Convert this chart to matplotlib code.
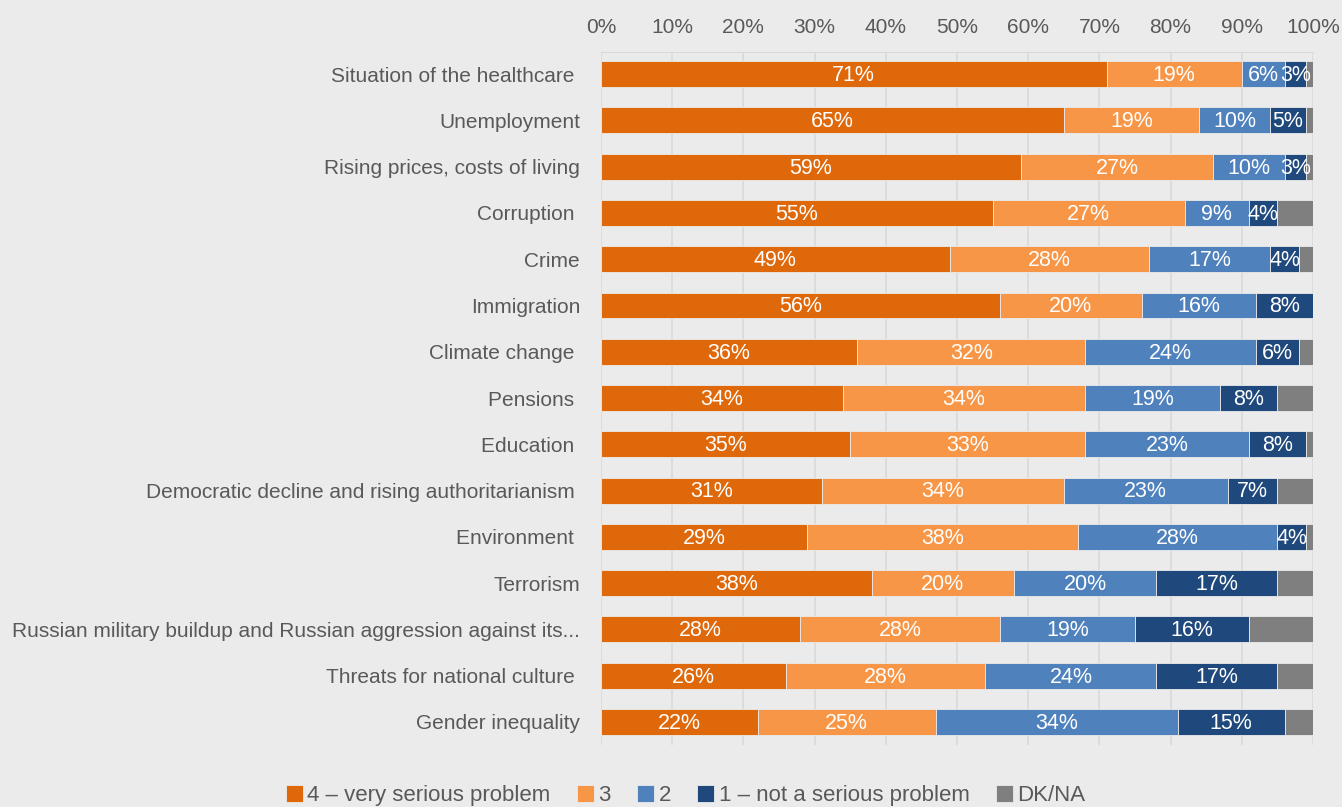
import matplotlib.pyplot as plt
import numpy as np

# survey: how serious is each problem (shares of respondents, %)
issues = [
    "Situation of the healthcare ",
    "Unemployment",
    "Rising prices, costs of living",
    "Corruption ",
    "Crime",
    "Immigration",
    "Climate change ",
    "Pensions ",
    "Education ",
    "Democratic decline and rising authoritarianism ",
    "Environment ",
    "Terrorism",
    "Russian military buildup and Russian aggression against its...",
    "Threats for national culture ",
    "Gender inequality",
]
very_serious = [71, 65, 59, 55, 49, 56, 36, 34, 35, 31, 29, 38, 28, 26, 22]
three = [19, 19, 27, 27, 28, 20, 32, 34, 33, 34, 38, 20, 28, 28, 25]
two = [6, 10, 10, 9, 17, 16, 24, 19, 23, 23, 28, 20, 19, 24, 34]
not_serious = [3, 5, 3, 4, 4, 8, 6, 8, 8, 7, 4, 17, 16, 17, 15]
dk_na = [1, 1, 1, 5, 2, 0.4, 2, 5, 1, 5, 1, 5, 9, 5, 4]

series = [
    ("4 \u2013 very serious problem", very_serious, "#DF690A"),
    ("3", three, "#F79646"),
    ("2", two, "#4F81BD"),
    ("1 \u2013 not a serious problem", not_serious, "#1F497D"),
    ("DK/NA", dk_na, "#7F7F7F"),
]

plt.rcParams["font.family"] = ["Liberation Sans", "DejaVu Sans"]
bg = "#EBEBEB"
txt = "#595959"

fig = plt.figure(figsize=(13.42, 8.07), dpi=100, facecolor=bg)
ax = fig.add_axes([0.4478, 0.0768, 0.5306, 0.8588], facecolor=bg)

y = np.arange(len(issues))
left = np.zeros(len(issues))
for name, vals, col in series:
    vals = np.array(vals, dtype=float)
    ax.barh(y, vals, left=left, height=0.56, color=col, label=name,
            edgecolor=bg, linewidth=0.6, zorder=3)
    if name != "DK/NA":
        for yi, l, v in zip(y, left, vals):
            ax.text(l + v / 2, yi + 0.03, "%d%%" % v, ha="center", va="center",
                    color="white", fontsize=15.5, zorder=4)
    left += vals

ax.set_xlim(0, 100)
ax.set_ylim(14.5, -0.48)
ax.set_xticks(np.arange(0, 101, 10))
ax.set_xticklabels(["%d%%" % t for t in range(0, 101, 10)])
ax.xaxis.tick_top()
ax.tick_params(axis="x", length=0, pad=11, labelsize=15, colors=txt)
ax.set_yticks(y)
ax.set_yticklabels(issues)
ax.tick_params(axis="y", length=0, pad=15, labelsize=15, colors=txt)
ax.grid(axis="x", color="#D9D9D9", linewidth=1.2, zorder=0)
for s in ["right", "bottom", "left"]:
    ax.spines[s].set_visible(False)
ax.spines["top"].set_color("#D9D9D9")

fig.legend(loc="lower center", bbox_to_anchor=(0.511, -0.024), ncol=5, frameon=False,
           fontsize=16, labelcolor=txt, handlelength=0.75, handleheight=0.75,
           handletextpad=0.2, columnspacing=1.2)

fig.savefig("out.png", dpi=100, facecolor=bg)
